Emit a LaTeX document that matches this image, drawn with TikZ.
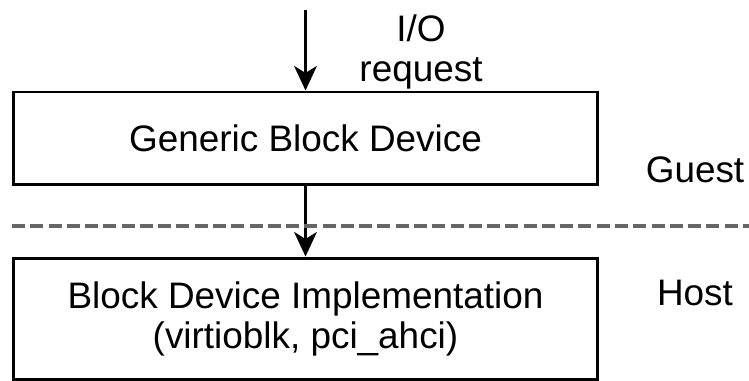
\documentclass[tikz,border=0pt]{standalone}
\usepackage{fontspec}
\setmainfont{Liberation Sans}
\usetikzlibrary{arrows.meta}

\tikzset{
    blockbox/.style={draw, line width=1.7pt, minimum width=11.7cm, align=center, inner sep=0pt},
    flow/.style={-{Stealth[length=14pt,width=13pt,inset=4pt]}, line width=1.3pt},
    lbl/.style={align=center, inner sep=0pt}
}

\begin{document}
\begin{tikzpicture}[x=0.02cm,y=-0.02cm]
    \fontsize{21}{23}\selectfont
    \useasboundingbox (0,0) rectangle (749,381);
    \node[blockbox, minimum height=1.86cm] (gbd) at (305.5,138.5) {Generic Block Device};
    \node[blockbox, minimum height=2.44cm] (impl) at (305.5,319) {Block Device Implementation\\(virtioblk, pci\_ahci)};
    \coordinate (src) at (305.5,10);
    \draw[flow] (src) -- (gbd.north);
    \draw[flow] (gbd.south) -- (impl.north);
    \node[lbl] (req) at (421,52) {I/O\\request};
    % guest / host split
    \coordinate (splitL) at (12,226);
    \coordinate (splitR) at (749,226);
    \draw[black!60, line width=1.8pt, dash pattern=on 7.4pt off 3pt] (splitL) -- (splitR);
    \node[lbl] (guest) at (695,170) {Guest};
    \node[lbl] (host) at (695,293) {Host};
\end{tikzpicture}
\end{document}
